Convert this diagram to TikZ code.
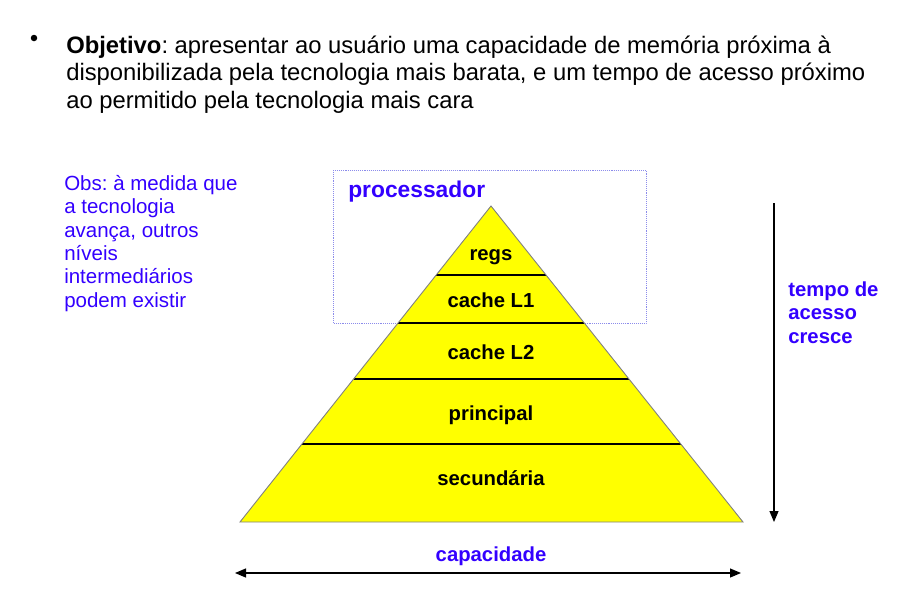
\documentclass[tikz,border=0pt]{standalone}
\usepackage{fontspec}
\setmainfont{Liberation Sans}
\usetikzlibrary{arrows.meta,calc}
\definecolor{azul}{RGB}{51,0,255}
\definecolor{caixa}{RGB}{140,140,235}
\definecolor{amarelo}{RGB}{255,255,0}
\frenchspacing

\begin{document}
\begin{tikzpicture}[x=1pt,y=-1pt,>={Triangle[length=11pt,width=9pt]},
		semithick]
		\tikzstyle{every node}=[inner sep=0pt]
		\tikzstyle{texto}=[anchor=base west,align=left,font=\fontsize{23.8}{27.5}\selectfont]
		\tikzstyle{obs}=[anchor=base west,align=left,text=azul,font=\fontsize{20.5}{23.3}\selectfont]
		\tikzstyle{nivel}=[anchor=base,font=\bfseries\fontsize{20.3}{24}\selectfont]
		\tikzstyle{eixo}=[anchor=base west,align=left,text=azul,font=\bfseries\fontsize{20.3}{23.5}\selectfont]
		\tikzstyle{camada}=[black,line width=1.1pt]
		\tikzstyle{seta}=[black,line width=1.2pt]
		
		\useasboundingbox (0,0) rectangle (922,595);
		
		% texto do topo
		\node[circle,fill=black,minimum size=6.5pt] (bullet) at (34,38) {};
		\node[texto] (objetivo) at (66,108) {\textbf{Objetivo}: apresentar ao usuário uma capacidade de memória próxima à\\disponibilizada pela tecnologia mais barata, e um tempo de acesso próximo\\ao permitido pela tecnologia mais cara};
		\node[obs] (obs) at (64,307) {Obs: à medida que\\a tecnologia\\avança, outros\\níveis\\intermediários\\podem existir};
		
		% processador
		\draw[caixa,densely dotted,line width=0.9pt] (333,170) rectangle (646,323);
		\node[eixo,font=\bfseries\fontsize{22.8}{26}\selectfont] (proc) at (348,197) {processador};
		
		% piramide
		\coordinate (apex) at (491,206);
		\coordinate (bl) at (240,522);
		\coordinate (br) at (743,522);
		\fill[amarelo] (apex) -- (bl) -- (br) -- cycle;
		\foreach \t/\n in {0.2184/1,0.3703/2,0.5475/3,0.7532/4}{
			\coordinate (e\n) at ($(apex)!\t!(bl)$);
			\coordinate (d\n) at ($(apex)!\t!(br)$);
			\draw[camada] (e\n) -- (d\n);
		}
		\draw[gray,line width=0.9pt] (apex) -- (bl) -- (br) -- cycle;
		
		\node[nivel] (regs) at (491,260) {regs};
		\node[nivel] (l1) at (491,307) {cache L1};
		\node[nivel] (l2) at (491,359) {cache L2};
		\node[nivel] (princ) at (491,420) {principal};
		\node[nivel] (sec) at (491,485) {secundária};
		
		% eixos
		\coordinate (t0) at (774,203);
		\coordinate (t1) at (774,522);
		\draw[seta,->] (t0) -- (t1);
		\node[eixo] (tempo) at (788,343) {tempo de\\acesso\\cresce};
		
		\coordinate (c0) at (235,573);
		\coordinate (c1) at (741,573);
		\draw[seta,<->] (c0) -- (c1);
		\node[eixo,anchor=base] (cap) at (491,561) {capacidade};
		\end{tikzpicture}
\end{document}
